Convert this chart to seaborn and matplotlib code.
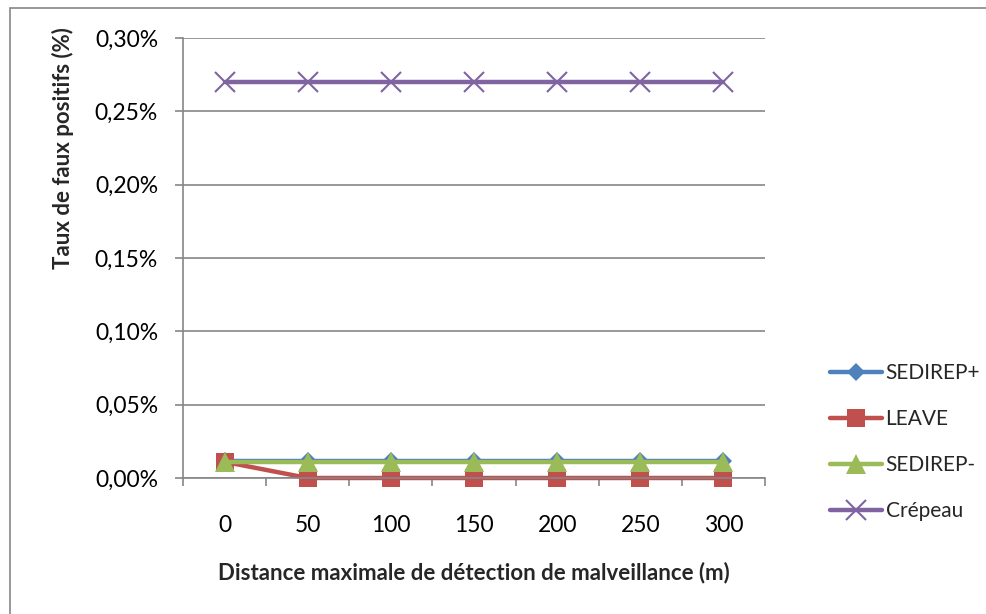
import matplotlib
matplotlib.use("Agg")
import matplotlib.pyplot as plt
import seaborn as sns
import pandas as pd
from matplotlib.patches import Rectangle
from matplotlib.ticker import FuncFormatter, FixedLocator

distances = ["0", "50", "100", "150", "200", "250", "300"]
sedirep_plus = [0.0117, 0.0117, 0.0117, 0.0117, 0.0117, 0.0117, 0.0117]
leave = [0.011, 0.0, 0.0, 0.0, 0.0, 0.0, 0.0]
sedirep_minus = [0.011, 0.011, 0.011, 0.011, 0.011, 0.011, 0.011]
crepeau = [0.27, 0.27, 0.27, 0.27, 0.27, 0.27, 0.27]
y_ticks = [0.0, 0.05, 0.10, 0.15, 0.20, 0.25, 0.30]

series = [
    ("SEDIREP+", sedirep_plus, "#4F81BD", "D", 9),
    ("LEAVE", leave, "#C0504D", "s", 13),
    ("SEDIREP-", sedirep_minus, "#9BBB59", "^", 14),
    ("Crépeau", crepeau, "#8064A2", "x", 14),
]

sns.set_theme(style="white")
plt.rcParams["font.family"] = ["Lato", "DejaVu Sans"]

fig = plt.figure(figsize=(9.86, 6.14), dpi=100)
fig.patch.set_facecolor("white")
fig.patches.append(Rectangle((10 / 986, -0.1), 1.2, 1 - 8 / 614 + 0.1,
                             transform=fig.transFigure, fill=False,
                             edgecolor="#868686", linewidth=1.2))

ax = fig.add_axes([183 / 986, 1 - 478 / 614, (765 - 183) / 986, (478 - 38) / 614])

for name, vals, color, marker, ms in series:
    df = pd.DataFrame({"x": range(len(distances)), "y": vals})
    sns.lineplot(data=df, x="x", y="y", ax=ax, color=color, marker=marker,
                 markersize=ms, linewidth=3.2, label=name,
                 markeredgecolor=color, markeredgewidth=1.5 if marker == "x" else 0,
                 solid_capstyle="round", clip_on=False)

ax.set_xlim(-0.5, len(distances) - 0.5)
ax.set_ylim(0, 0.30)
ax.set_xticks(range(len(distances)))
ax.set_xticklabels(distances)
ax.xaxis.set_minor_locator(FixedLocator([i - 0.5 for i in range(len(distances) + 1)]))
ax.set_yticks(y_ticks)
ax.yaxis.set_major_formatter(FuncFormatter(lambda v, p: f"{v:.2f}%".replace(".", ",")))

ax.tick_params(axis="x", which="major", length=0, pad=27, labelsize=16.5, colors="black")
ax.tick_params(axis="x", which="minor", length=6, width=1.2, color="#868686", bottom=True)
ax.tick_params(axis="y", length=6, width=1.2, color="#868686", pad=12, labelsize=16.5,
               colors="black", left=True)

ax.grid(axis="y", color="#868686", linewidth=1.2)
ax.grid(axis="x", visible=False)
for side in ["top", "right"]:
    ax.spines[side].set_visible(False)
for side in ["left", "bottom"]:
    ax.spines[side].set_color("#868686")
    ax.spines[side].set_linewidth(1.2)

ax.set_xlabel("Distance maximale de détection de malveillance (m)", fontsize=16,
              fontweight="bold", labelpad=18)
ax.set_ylabel("Taux de faux positifs (%)", fontsize=16, fontweight="bold",
              va="center", ha="center")
ax.yaxis.set_label_coords(63 / 986, 1 - 148 / 614, transform=fig.transFigure)

handles, labels = ax.get_legend_handles_labels()
ax.legend(handles, labels, loc="center left", bbox_to_anchor=(822 / 986, 1 - 442 / 614),
          bbox_transform=fig.transFigure, frameon=False, fontsize=15,
          handlelength=2.5, handletextpad=0.15, labelspacing=1.25, borderaxespad=0)

fig.savefig("out.png", dpi=100, facecolor="white")
